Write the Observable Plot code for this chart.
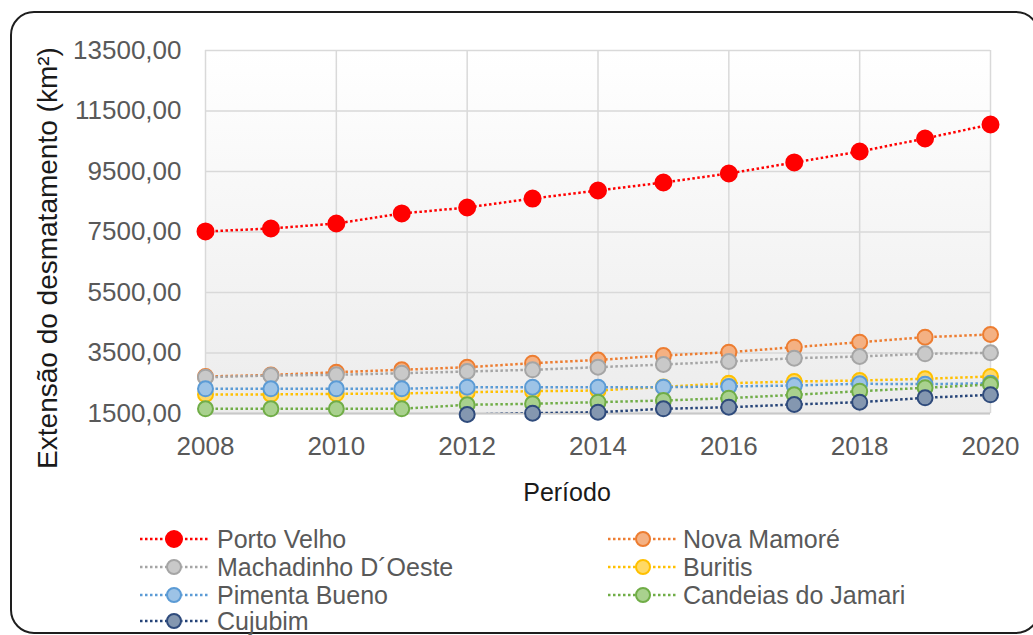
<!DOCTYPE html>
<html>
<head>
<meta charset="utf-8">
<script src="https://cdn.jsdelivr.net/npm/d3@7"></script>
<script src="https://cdn.jsdelivr.net/npm/@observablehq/plot@0.6"></script>
<style>
  html, body { margin: 0; padding: 0; background: #fff; }
  body { width: 1033px; height: 635px; overflow: hidden; position: relative; font-family: "Liberation Sans", Arial, sans-serif; }
  #box { position: absolute; left: 10px; top: 11px; width: 1030px; height: 623px; border: 2px solid #1e1e1e; border-radius: 24px; box-sizing: border-box; }
  #chart { position: absolute; left: 0; top: 0; }
  #overlay { position: absolute; left: 0; top: 0; }
</style>
</head>
<body>
<div id="box"></div>
<div id="chart"></div>
<svg id="overlay" width="1033" height="635"></svg>
<script>
// ---- data ----
const years = [2008, 2009, 2010, 2011, 2012, 2013, 2014, 2015, 2016, 2017, 2018, 2019, 2020];
const xTicks = [2008, 2010, 2012, 2014, 2016, 2018, 2020];
const yTicks = [1500, 3500, 5500, 7500, 9500, 11500, 13500];

const seriesNames = ["Porto Velho", "Nova Mamoré", "Machadinho D´Oeste", "Buritis", "Pimenta Bueno", "Candeias do Jamari", "Cujubim"];
const portoVelho = [7517, 7616, 7781, 8112, 8310, 8607, 8872, 9136, 9434, 9798, 10161, 10591, 11054];
const novaMamore = [2723, 2773, 2865, 2945, 3031, 3163, 3269, 3417, 3526, 3692, 3857, 4022, 4112];
const machadinho = [2700, 2756, 2779, 2832, 2888, 2945, 3031, 3120, 3219, 3328, 3384, 3474, 3507];
const buritis    = [2130, 2130, 2150, 2165, 2205, 2237, 2260, 2380, 2502, 2558, 2591, 2647, 2723];
const pimenta    = [2316, 2316, 2316, 2316, 2369, 2369, 2369, 2369, 2393, 2426, 2482, 2470, 2500];
const candeias   = [1655, 1655, 1655, 1655, 1788, 1821, 1874, 1930, 2006, 2118, 2237, 2350, 2459];
const cujubim    = [1300, 1350, 1400, 1440, 1467, 1510, 1543, 1655, 1708, 1798, 1874, 2019, 2118];

const lineColors   = ["#ff0000", "#ed7d31", "#a5a5a5", "#ffc000", "#5b9bd5", "#70ad47", "#264478"];
const markerFills  = ["#ff0000", "#f4b183", "#c9c9c9", "#ffd966", "#9dc3e6", "#a9d18e", "#8497b0"];
const markerStroke = ["#ff0000", "#ed7d31", "#a5a5a5", "#ffc000", "#5b9bd5", "#70ad47", "#2f4b7c"];

const allValues = [portoVelho, novaMamore, machadinho, buritis, pimenta, candeias, cujubim];

const rows = [];
allValues.forEach((vals, si) => {
  vals.forEach((v, i) => rows.push({series: seriesNames[si], si, year: years[i], value: v}));
});

const fmt = v => v.toFixed(2).replace(".", ",");
const Y_MIN = 1500, Y_MAX = 13500;

const marks = [
  Plot.frame({fill: "url(#bgGrad)", stroke: null}),
  Plot.gridY(yTicks, {stroke: "#d9d9d9", strokeOpacity: 1, strokeWidth: 1.5}),
  Plot.gridX(xTicks, {stroke: "#d9d9d9", strokeOpacity: 1, strokeWidth: 1.5}),
  Plot.ruleY([Y_MIN], {stroke: "#c8c8c8", strokeWidth: 2}),
  Plot.axisY(yTicks, {tickSize: 0, tickPadding: 24, tickFormat: fmt, fontSize: 26, fill: "#595959", label: null}),
  Plot.axisX(xTicks, {tickSize: 0, tickPadding: 23, tickFormat: d => String(d), fontSize: 26, fill: "#595959", label: null})
];

seriesNames.forEach((name, si) => {
  const d = rows.filter(r => r.si === si);
  marks.push(Plot.line(d, {x: "year", y: "value", stroke: lineColors[si], strokeWidth: 2.5, strokeDasharray: "2.5,2.5", strokeLinecap: "butt", clip: true}));
  marks.push(Plot.dot(d.filter(r => r.value >= Y_MIN - 40), {x: "year", y: "value", r: si === 0 ? 8 : 7.5, fill: markerFills[si], stroke: markerStroke[si], strokeWidth: 2}));
});

const chart = Plot.plot({
  width: 1033,
  height: 470,
  marginTop: 50,
  marginBottom: 57,
  marginLeft: 205,
  marginRight: 43,
  style: {background: "transparent", fontFamily: "'Liberation Sans', Arial, sans-serif"},
  x: {domain: [2008, 2020]},
  y: {domain: [Y_MIN, Y_MAX]},
  marks
});

// gradient background of the plot area
const defs = d3.select(chart).insert("defs", ":first-child");
const grad = defs.append("linearGradient").attr("id", "bgGrad").attr("x1", 0).attr("y1", 0).attr("x2", 0).attr("y2", 1);
grad.append("stop").attr("offset", "0%").attr("stop-color", "#ffffff");
grad.append("stop").attr("offset", "100%").attr("stop-color", "#ececec");

document.getElementById("chart").appendChild(chart);

// titles and legend
const ov = d3.select("#overlay");
ov.append("text").attr("x", 567).attr("y", 492).attr("text-anchor", "middle").attr("dominant-baseline", "central")
  .attr("font-size", 25).attr("fill", "#1a1a1a").attr("font-family", "'Liberation Sans', Arial, sans-serif").text("Período");
ov.append("text").attr("transform", "translate(47,258) rotate(-90)").attr("text-anchor", "middle").attr("dominant-baseline", "central")
  .attr("font-size", 28).attr("fill", "#1a1a1a").attr("font-family", "'Liberation Sans', Arial, sans-serif").text("Extensão do desmatamento (km²)");

const legendRowsY = [539, 567, 595, 621];
const legendCols = [{x0: 140, x1: 208, cx: 174, tx: 217}, {x0: 608, x1: 676, cx: 643, tx: 683}];
seriesNames.forEach((name, si) => {
  const row = Math.floor(si / 2), col = si % 2;
  const y = legendRowsY[row], c = legendCols[col];
  const g = ov.append("g");
  g.append("line").attr("x1", c.x0).attr("x2", c.x1).attr("y1", y).attr("y2", y)
    .attr("stroke", lineColors[si]).attr("stroke-width", 2.5).attr("stroke-dasharray", "2.5,2.5");
  g.append("circle").attr("cx", c.cx).attr("cy", y).attr("r", si === 0 ? 8 : 7)
    .attr("fill", markerFills[si]).attr("stroke", markerStroke[si]).attr("stroke-width", 2);
  g.append("text").attr("x", c.tx).attr("y", y).attr("dominant-baseline", "central")
    .attr("font-size", 25).attr("fill", "#595959").attr("font-family", "'Liberation Sans', Arial, sans-serif").text(name);
});
</script>
</body>
</html>
